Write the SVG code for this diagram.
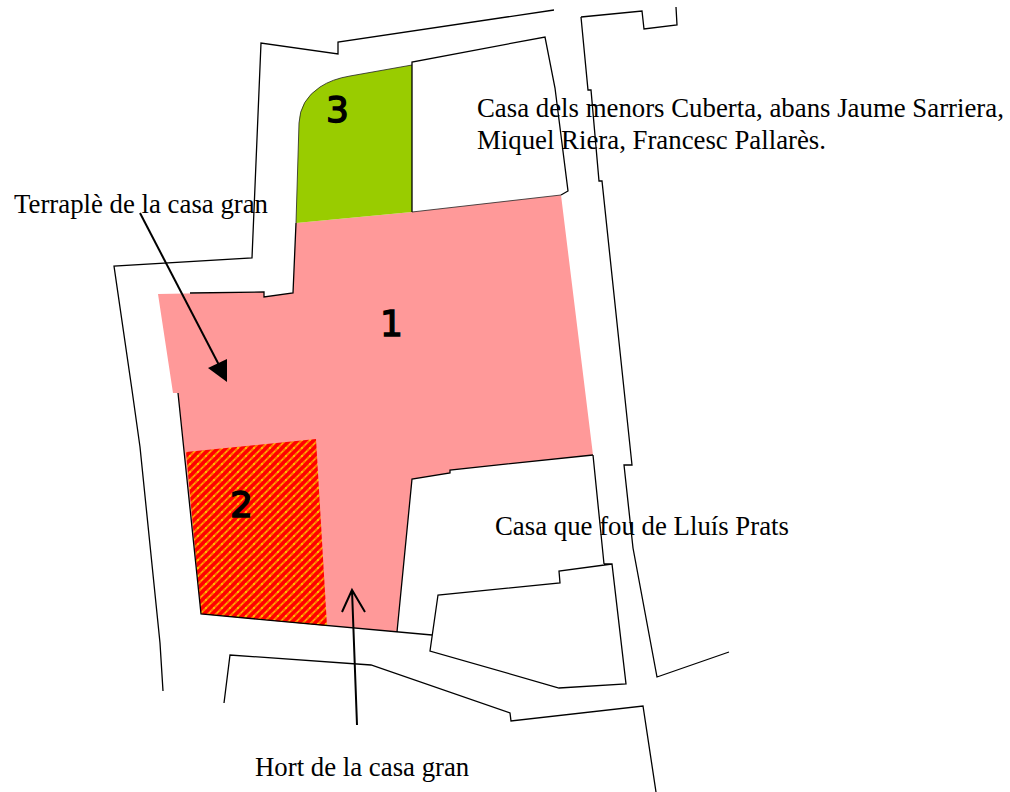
<svg xmlns="http://www.w3.org/2000/svg" width="1010" height="792" viewBox="0 0 1010 792">
<style>
.l{fill:none;stroke:#000;stroke-width:1.3}
.f{fill:none;stroke:#222;stroke-width:.8}
.a{fill:none;stroke:#000;stroke-width:2}
.t{font-family:"Liberation Serif","Times New Roman",serif;font-size:26.8px;fill:#000}
.n{font-family:"DejaVu Sans",sans-serif;font-size:36px;fill:#000;stroke:#000;stroke-width:1.4}
</style>
<defs>
<pattern id="h" width="8" height="8" patternUnits="userSpaceOnUse" patternTransform="translate(186 452)">
<rect width="8" height="8" fill="#f00"/>
<path d="M-2 2L2-2M-2 10L10-2M6 10L10 6" stroke="#f70" stroke-width="2.2" fill="none"/>
<circle cx="4" cy="4" r="1" fill="#fc0"/>
<circle cx="0" cy="8" r="1" fill="#fc0"/>
<circle cx="8" cy="0" r="1" fill="#fc0"/>
</pattern>
</defs>
<rect width="1010" height="792" fill="#fff"/>
<g id="areas">
<g id="area-1"><path fill="#f99" d="M158 294L264 292L264 297L293 293L296 223L412 212L561 195L593 455L450 470L450 473L412 479L397 632L201 614L178 393L173 393Z"/></g>
<g id="area-2"><path fill="url(#h)" d="M186 452L316 439L327 626L201 614Z"/></g>
<g id="area-3"><path fill="#9c0" d="M296 223L299 123Q300 100 320 87Q332 79 350 76L412 65L412 212Z"/></g>
</g>
<g id="connectors">
<path class="l" d="M163 691L160 643L140 447L132 390L114 266L252 258L261 43L338 54L338 42L554 10"/>
<path class="f" d="M412 65L350 76Q332 79 320 87Q300 100 299 123L296 223M412 212L561 195"/>
<path class="l" d="M412 212L412 62L545 37L555 88L568 191L561 195"/>
<path class="l" d="M581 17L642 11L644 29L677 25L676 7M581 17L588 90L591 90L599 181L602 181L632 465L624 465L633 548L657 677L729 652"/>
<path class="l" d="M593 455L604 564M612 564L559 571L560 583L438 595L430 651L559 688L626 684L612 564L604 564"/>
<path class="l" d="M178 393L201 614L432 635M397 632L412 479L450 473L450 470L593 455M190 293L264 292L264 297L293 293L296 223"/>
<path class="l" d="M224 703L230 655L371 665L510 713L511 721L643 706L656 792"/>
<path class="a" d="M140 213L219 365"/>
<path d="M227 382L208 368L227 359Z" fill="#000"/>
<path class="a" d="M357 725L352 590M342 612L352 590L365 612"/>
</g>
<g id="labels">
<text class="t" x="477" y="116.7">Casa dels menors Cuberta, abans Jaume Sarriera,</text>
<text class="t" x="477" y="148.7">Miquel Riera, Francesc Pallarès.</text>
<text class="t" x="14" y="212.7">Terraplè de la casa gran</text>
<text class="t" x="495" y="534.7">Casa que fou de Lluís Prats</text>
<text class="t" x="255" y="775.7">Hort de la casa gran</text>
<text class="n" x="326" y="122">3</text>
<text class="n" x="380" y="336">1</text>
<text class="n" x="230" y="517">2</text>
</g>
</svg>
